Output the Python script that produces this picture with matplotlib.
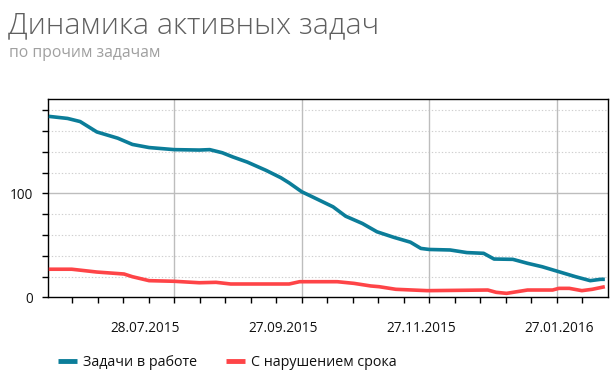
import matplotlib
matplotlib.use("Agg")
import matplotlib.pyplot as plt
import matplotlib.dates as mdates
import numpy as np
import datetime as dt

# --- data ---
work_dates = [
    "2015-05-29", "2015-06-07", "2015-06-13", "2015-06-21", "2015-07-01",
    "2015-07-08", "2015-07-16", "2015-07-28", "2015-08-09", "2015-08-14",
    "2015-08-20", "2015-08-25", "2015-09-01", "2015-09-10", "2015-09-17",
    "2015-09-21", "2015-09-27", "2015-10-02", "2015-10-12", "2015-10-18",
    "2015-10-26", "2015-11-02", "2015-11-10", "2015-11-18", "2015-11-23",
    "2015-11-27", "2015-12-07", "2015-12-15", "2015-12-23", "2015-12-28",
    "2016-01-06", "2016-01-13", "2016-01-20", "2016-01-28", "2016-02-05",
    "2016-02-12", "2016-02-17", "2016-02-19",
]
work_values = [
    174, 172, 169, 159, 153, 147, 144, 142, 141.6, 142,
    139, 135, 130, 122, 115, 110, 101.5, 96.7, 87, 78,
    71, 63, 57.7, 53, 47, 46, 45.5, 43, 42.3, 36.8,
    36.5, 32.7, 29.4, 24.6, 19.8, 16, 17.3, 17.3,
]

late_dates = [
    "2015-05-29", "2015-06-09", "2015-06-21", "2015-07-04", "2015-07-08",
    "2015-07-16", "2015-07-28", "2015-08-09", "2015-08-17", "2015-08-24",
    "2015-09-17", "2015-09-21", "2015-09-26", "2015-10-14", "2015-10-22",
    "2015-10-30", "2015-11-03", "2015-11-11", "2015-11-19", "2015-11-26",
    "2015-12-25", "2015-12-29", "2016-01-03", "2016-01-08", "2016-01-13",
    "2016-01-25", "2016-01-28", "2016-02-02", "2016-02-08", "2016-02-13",
    "2016-02-19",
]
late_values = [
    27, 27, 24.3, 22.4, 19.8, 16, 15.4, 14, 14.4, 12.8,
    12.8, 12.8, 15, 15, 13.4, 10.9, 10.2, 7.7, 7, 6.4,
    7, 4.8, 3.8, 5.4, 7, 7, 8.6, 8.6, 6.4, 7.7,
    10.2,
]

grid_dates = ["2015-07-28", "2015-09-27", "2015-11-27", "2016-01-27"]
label_dates = ["2015-07-14", "2015-09-18", "2015-11-23", "2016-01-28"]
tick_labels = ["28.07.2015", "27.09.2015", "27.11.2015", "27.01.2016"]

series_names = ["Задачи в работе", "С нарушением срока"]
title = "Динамика активных задач"
subtitle = "по прочим задачам"


def to_dt(seq):
    return [dt.datetime.strptime(s, "%Y-%m-%d") for s in seq]


plt.rcParams["font.family"] = ["Open Sans", "DejaVu Sans"]

fig = plt.figure(figsize=(6.16, 3.77), dpi=100)
ax = fig.add_axes([0.0779, 0.2114, 0.9091, 0.5252])

teal = "#0b7d99"
red = "#fe4447"

ax.plot(to_dt(work_dates), work_values, color=teal, lw=2.6,
        solid_capstyle="butt", label=series_names[0], zorder=3)
ax.plot(to_dt(late_dates), late_values, color=red, lw=2.6,
        solid_capstyle="butt", label=series_names[1], zorder=3)

x0 = mdates.date2num(dt.datetime(2015, 5, 28, 15))
x1 = mdates.date2num(dt.datetime(2016, 2, 20, 12))
ax.set_xlim(x0, x1)
ax.set_ylim(0, 190.4)

# y axis
ax.set_yticks([0, 100])
ax.set_yticks(np.arange(20, 190, 20), minor=True)
for v in np.arange(20, 190, 20):
    if v != 100:
        ax.axhline(v, color="#cfcfcf", lw=0.8, ls=(0, (1.2, 1.8)), zorder=1)
ax.axhline(100, color="#bdbdbd", lw=1, zorder=1)

# x axis: labels sit apart from grid lines like in the reference
base = mdates.date2num(dt.datetime(2015, 7, 28))
step = 61 / 5
minor = [base + k * step for k in range(-4, 17)]
ax.set_xticks(minor, minor=True)
ax.set_xticks(mdates.date2num(to_dt(label_dates)))
ax.set_xticklabels(tick_labels)
for d in to_dt(grid_dates):
    ax.axvline(d, color="#bdbdbd", lw=1, zorder=1)

ax.tick_params(axis="x", which="major", length=0, pad=17, labelsize=9.8,
               labelcolor="#111111")
ax.tick_params(axis="x", which="minor", length=4, width=1, direction="out")
ax.tick_params(axis="y", which="both", length=4, width=1, direction="out",
               labelsize=9.8, labelcolor="#111111", pad=7)

for s in ax.spines.values():
    s.set_color("black")
    s.set_linewidth(1)

fig.text(8 / 616, 1 - 33 / 377, title, fontsize=21.8, color="#5f5f5f",
         fontweight="light", va="baseline", ha="left")
fig.text(9 / 616, 1 - 57 / 377, subtitle, fontsize=11.3, color="#a0a0a0",
         va="baseline", ha="left")

fig.legend(loc="center left", bbox_to_anchor=(58 / 616, 1 - 363 / 377),
           ncol=2, frameon=False, borderpad=0, borderaxespad=0,
           handlelength=1.35, handletextpad=0.4, columnspacing=2.0,
           fontsize=10.3, labelcolor="#111111")
for line in fig.legends[0].get_lines():
    line.set_linewidth(3.5)

fig.savefig("out.png", dpi=100)
